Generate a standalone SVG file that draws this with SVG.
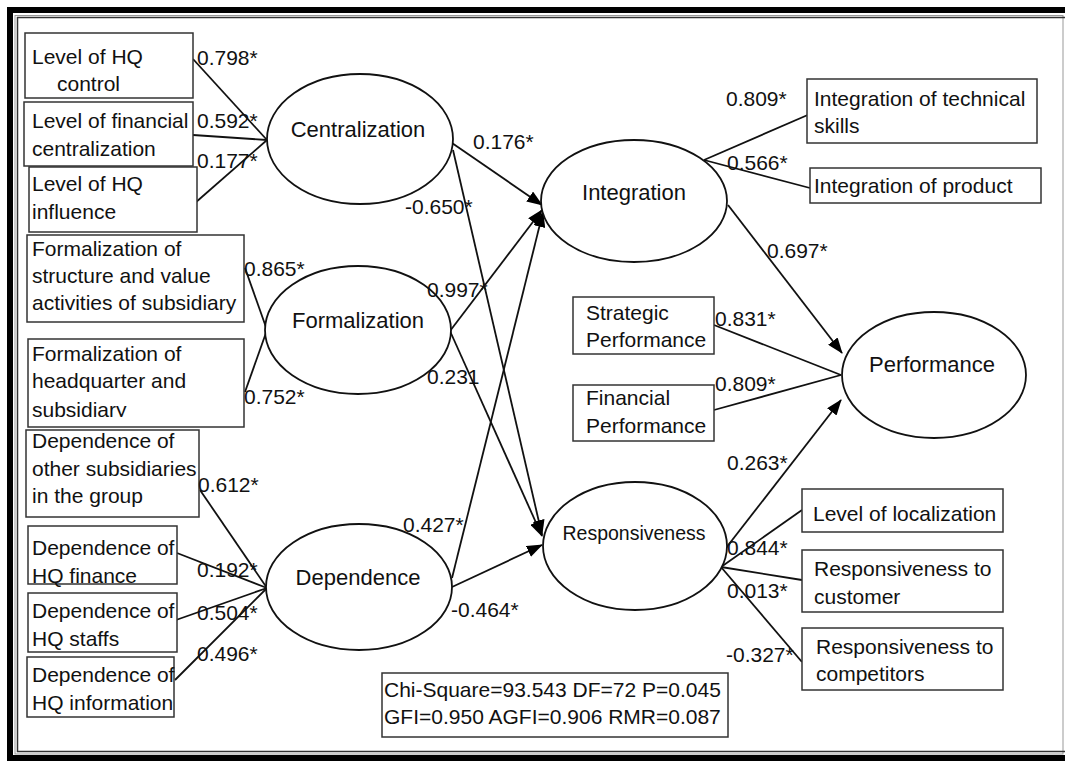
<svg xmlns="http://www.w3.org/2000/svg" width="1065" height="761" viewBox="0 0 1065 761">
  <defs>
    <marker id="arrow" markerUnits="userSpaceOnUse" markerWidth="16" markerHeight="12" viewBox="0 0 16 12" refX="15" refY="6" orient="auto">
      <path d="M0,0 L16,6 L0,12 Z" fill="#000"/>
    </marker>
    <clipPath id="clipF2"><rect x="28" y="339" width="216" height="78"/></clipPath>
  </defs>
  <style>
    text { font-family: "Liberation Sans", Arial, sans-serif; font-size: 21px; fill: #111; }
    .lat { font-size: 22px; }
    .small { font-size: 19.5px; }
    .box { fill: #fff; stroke: #333; stroke-width: 1.5; }
    .ell { fill: #fff; stroke: #111; stroke-width: 1.8; }
    .line { stroke: #111; stroke-width: 1.8; fill: none; }
    .arr { stroke: #111; stroke-width: 1.8; fill: none; marker-end: url(#arrow); }
  </style>
  <rect width="1065" height="761" fill="#fff"/>

  <!-- page frame -->
  <g id="frame" fill="none">
    <rect x="10" y="10" width="1075" height="748" stroke="#000" stroke-width="6"/>
    <rect x="15" y="15.5" width="1048" height="738.5" stroke="#999" stroke-width="1"/>
    <rect x="17.5" y="17.5" width="1070" height="734" stroke="#333" stroke-width="1.5"/>
  </g>

  <!-- connectors -->
  <g id="connectors">
    <!-- centralization indicators -->
    <line class="line" x1="193" y1="59" x2="267" y2="140"/>
    <line class="line" x1="193" y1="135" x2="267" y2="140"/>
    <line class="line" x1="195" y1="203" x2="267" y2="140"/>
    <!-- formalization indicators -->
    <line class="line" x1="245" y1="268" x2="267" y2="330"/>
    <line class="line" x1="245" y1="392" x2="267" y2="330"/>
    <!-- dependence indicators -->
    <line class="line" x1="200" y1="490" x2="267" y2="588"/>
    <line class="line" x1="177" y1="553" x2="267" y2="588"/>
    <line class="line" x1="176" y1="620" x2="267" y2="588"/>
    <line class="line" x1="175" y1="680" x2="267" y2="588"/>
    <!-- structural paths -->
    <line class="arr" x1="452" y1="143" x2="542" y2="205"/>
    <line class="arr" x1="453" y1="150" x2="542" y2="535"/>
    <line class="arr" x1="450" y1="331" x2="542" y2="210"/>
    <line class="arr" x1="450" y1="331" x2="542" y2="536"/>
    <line class="arr" x1="452" y1="578" x2="543" y2="212"/>
    <line class="arr" x1="452" y1="587" x2="542" y2="545"/>
    <line class="arr" x1="728" y1="205" x2="842" y2="353"/>
    <line class="arr" x1="726" y1="548" x2="841" y2="400"/>
    <!-- integration indicators -->
    <line class="line" x1="704" y1="160" x2="810" y2="114"/>
    <line class="line" x1="704" y1="160" x2="810" y2="188"/>
    <!-- performance indicators -->
    <line class="line" x1="714" y1="325" x2="841" y2="375"/>
    <line class="line" x1="714" y1="410" x2="841" y2="375"/>
    <!-- responsiveness indicators -->
    <line class="line" x1="721" y1="567" x2="802" y2="510"/>
    <line class="line" x1="721" y1="567" x2="802" y2="580"/>
    <line class="line" x1="721" y1="567" x2="802" y2="662"/>
  </g>

  <!-- left indicator boxes -->
  <g id="hq-control">
    <rect class="box" x="25" y="33" width="168" height="65"/>
    <text x="32" y="64">Level of HQ</text>
    <text x="57" y="91">control</text>
  </g>
  <g id="financial-centralization">
    <rect class="box" x="24" y="102" width="169" height="64"/>
    <text x="32" y="128">Level of financial</text>
    <text x="32" y="156">centralization</text>
  </g>
  <g id="hq-influence">
    <rect class="box" x="29" y="167" width="168" height="65"/>
    <text x="32" y="191">Level of HQ</text>
    <text x="32" y="219">influence</text>
  </g>
  <g id="formalization-structure">
    <rect class="box" x="27" y="235" width="217" height="87"/>
    <text x="32" y="256">Formalization of</text>
    <text x="32" y="283">structure and value</text>
    <text x="32" y="310">activities of subsidiary</text>
  </g>
  <g id="formalization-hq">
    <rect class="box" x="28" y="339" width="216" height="88"/>
    <text x="32" y="361">Formalization of</text>
    <text x="32" y="388">headquarter and</text>
    <text x="32" y="417" clip-path="url(#clipF2)">subsidiary</text>
  </g>
  <g id="dependence-subsidiaries">
    <rect class="box" x="26" y="430" width="173" height="87"/>
    <text x="32" y="448">Dependence of</text>
    <text x="32" y="476">other subsidiaries</text>
    <text x="32" y="503">in the group</text>
  </g>
  <g id="dependence-finance">
    <rect class="box" x="28" y="526" width="149" height="58"/>
    <text x="32" y="555">Dependence of</text>
    <text x="32" y="583">HQ finance</text>
  </g>
  <g id="dependence-staffs">
    <rect class="box" x="28" y="593" width="149" height="59"/>
    <text x="32" y="618">Dependence of</text>
    <text x="32" y="646">HQ staffs</text>
  </g>
  <g id="dependence-information">
    <rect class="box" x="27" y="657" width="147" height="60"/>
    <text x="32" y="682">Dependence of</text>
    <text x="32" y="710">HQ information</text>
  </g>

  <!-- latent constructs -->
  <g id="centralization">
    <ellipse class="ell" cx="360" cy="139" rx="93" ry="65"/>
    <text class="lat" x="358" y="137" text-anchor="middle">Centralization</text>
  </g>
  <g id="formalization">
    <ellipse class="ell" cx="358" cy="330" rx="93" ry="64"/>
    <text class="lat" x="358" y="328" text-anchor="middle">Formalization</text>
  </g>
  <g id="dependence">
    <ellipse class="ell" cx="359" cy="587" rx="93" ry="63"/>
    <text class="lat" x="358" y="585" text-anchor="middle">Dependence</text>
  </g>
  <g id="integration">
    <ellipse class="ell" cx="634" cy="201" rx="93" ry="61"/>
    <text class="lat" x="634" y="200" text-anchor="middle">Integration</text>
  </g>
  <g id="responsiveness">
    <ellipse class="ell" cx="635" cy="546" rx="92" ry="64"/>
    <text class="small" x="634" y="540" text-anchor="middle">Responsiveness</text>
  </g>
  <g id="performance">
    <ellipse class="ell" cx="934" cy="375" rx="92" ry="63"/>
    <text class="lat" x="932" y="372" text-anchor="middle">Performance</text>
  </g>

  <!-- right indicator boxes -->
  <g id="technical-skills">
    <rect class="box" x="807" y="79" width="230" height="64"/>
    <text x="814" y="106">Integration of technical</text>
    <text x="814" y="133">skills</text>
  </g>
  <g id="product">
    <rect class="box" x="810" y="168" width="231" height="35"/>
    <text x="814" y="193">Integration of product</text>
  </g>
  <g id="strategic-performance">
    <rect class="box" x="573" y="297" width="141" height="57"/>
    <text x="586" y="320">Strategic</text>
    <text x="586" y="347">Performance</text>
  </g>
  <g id="financial-performance">
    <rect class="box" x="573" y="385" width="141" height="56"/>
    <text x="586" y="405">Financial</text>
    <text x="586" y="433">Performance</text>
  </g>
  <g id="localization">
    <rect class="box" x="802" y="489" width="201" height="43"/>
    <text x="813" y="521">Level of localization</text>
  </g>
  <g id="customer">
    <rect class="box" x="802" y="550" width="201" height="62"/>
    <text x="814" y="576">Responsiveness to</text>
    <text x="814" y="604">customer</text>
  </g>
  <g id="competitors">
    <rect class="box" x="802" y="628" width="201" height="62"/>
    <text x="816" y="654">Responsiveness to</text>
    <text x="816" y="681">competitors</text>
  </g>

  <!-- model fit -->
  <g id="fit-indices">
    <rect class="box" x="382" y="673" width="346" height="64"/>
    <text x="384" y="697">Chi-Square=93.543 DF=72 P=0.045</text>
    <text x="384" y="724">GFI=0.950 AGFI=0.906 RMR=0.087</text>
  </g>

  <!-- path coefficients -->
  <g id="coefficients">
    <text x="197" y="65">0.798*</text>
    <text x="197" y="128">0.592*</text>
    <text x="197" y="168">0.177*</text>
    <text x="244" y="276">0.865*</text>
    <text x="244" y="404">0.752*</text>
    <text x="198" y="492">0.612*</text>
    <text x="197" y="577">0.192*</text>
    <text x="197" y="620">0.504*</text>
    <text x="197" y="661">0.496*</text>
    <text x="473" y="149">0.176*</text>
    <text x="405" y="214">-0.650*</text>
    <text x="427" y="297">0.997*</text>
    <text x="427" y="384">0.231</text>
    <text x="403" y="532">0.427*</text>
    <text x="451" y="617">-0.464*</text>
    <text x="726" y="106">0.809*</text>
    <text x="727" y="170">0.566*</text>
    <text x="767" y="258">0.697*</text>
    <text x="715" y="326">0.831*</text>
    <text x="715" y="391">0.809*</text>
    <text x="727" y="470">0.263*</text>
    <text x="727" y="555">0.844*</text>
    <text x="727" y="598">0.013*</text>
    <text x="726" y="662">-0.327*</text>
  </g>
</svg>
